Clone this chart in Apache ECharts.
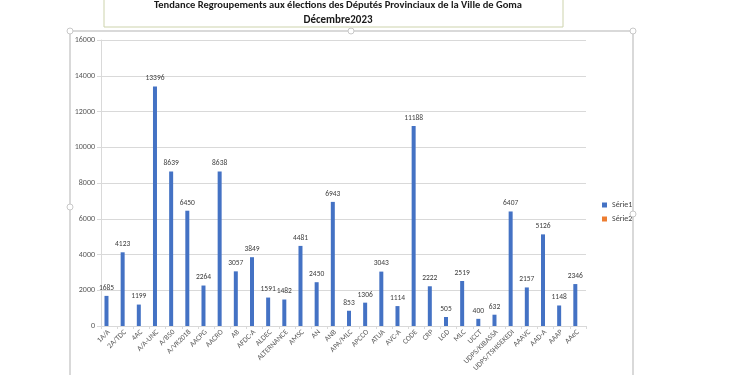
<!DOCTYPE html>
<html>
<head>
<meta charset="utf-8">
<title>Tendance Regroupements</title>
<script src="https://cdn.jsdelivr.net/npm/echarts@6/dist/echarts.min.js"></script>
<style>
html,body{margin:0;padding:0;background:#fff;}
#chart{width:750px;height:375px;}
</style>
</head>
<body>
<div id="chart"></div>
<script>
// regroupements (x) et voix obtenues
let categories = ['1A/A','2A/TDC','4AC','A/A-UNC','A/B50','A/VK2018','AACPG','AACRO','AB','AFDC-A',
    'ALDEC','ALTERNANCE','AMSC','AN','ANB','APA/MLC','APCCO','ATUA','AVC-A','CODE',
    'CRP','LGD','MLC','UCCT','UDPS/KIBASSA','UDPS/TSHISEKEDI','AAAVC','AAD-A','AAAP','AAeC'];
let serie1 = [1685,4123,1199,13396,8639,6450,2264,8638,3057,3849,
    1591,1482,4481,2450,6943,853,1306,3043,1114,11188,
    2222,505,2519,400,632,6407,2157,5126,1148,2346];
let serie2 = [];
let yTicks = [0,2000,4000,6000,8000,10000,12000,14000,16000];

let font = 'Carlito, "Liberation Sans", "Open Sans", sans-serif';
let chart = echarts.init(document.getElementById('chart'));

function handle(x,y){
    return {type:'circle',shape:{cx:x,cy:y,r:3},style:{fill:'#fff',stroke:'#c8c8c8',lineWidth:1},z:5};
}

chart.setOption({
    animation:false,
    textStyle:{fontFamily:font},
    title:{
        text:'Tendance Regroupements aux élections des Députés Provinciaux de la Ville de Goma',
        subtext:'Décembre2023',
        left:333, textAlign:'center', top:-5, itemGap:4,
        textStyle:{fontSize:10.5,fontWeight:'bold',color:'#1a1a1a',fontFamily:font},
        subtextStyle:{fontSize:11,fontWeight:'bold',color:'#1a1a1a',fontFamily:font}
    },
    graphic:[
        {type:'rect',shape:{x:104,y:-5,width:459,height:32},style:{fill:'#fff',stroke:'#cdd3ac',lineWidth:1},z:-1},
        {type:'rect',shape:{x:70,y:31,width:563,height:360},style:{fill:'none',stroke:'#d9d9d9',lineWidth:2},z:-1},
        handle(70,31), handle(351,31), handle(633,31), handle(70,207), handle(633,214)
    ],
    legend:{
        orient:'vertical', left:597, top:196, itemWidth:5, itemHeight:5, itemGap:6,
        icon:'rect',
        textStyle:{fontSize:8,color:'#404040',fontFamily:font},
        data:['Série1','Série2']
    },
    grid:{left:101,right:164,top:40,bottom:49},
    xAxis:{
        type:'category', data:categories,
        axisLine:{lineStyle:{color:'#d9d9d9'}},
        axisTick:{show:true,length:3,lineStyle:{color:'#d9d9d9'}},
        axisLabel:{rotate:45,interval:0,fontSize:7.5,color:'#595959',margin:5}
    },
    yAxis:{
        type:'value', min:yTicks[0], max:yTicks[yTicks.length-1], interval:2000,
        axisLine:{show:true,lineStyle:{color:'#d9d9d9'}},
        axisTick:{show:true,length:4,lineStyle:{color:'#d9d9d9'}},
        splitLine:{lineStyle:{color:'#d9d9d9'}},
        axisLabel:{fontSize:8,color:'#595959',margin:6,formatter:v=>String(v)}
    },
    series:[
        {name:'Série1',type:'bar',data:serie1,barWidth:4,barGap:'30%',
            itemStyle:{color:'#4472c4'},
            label:{show:true,position:'top',fontSize:7.5,color:'#404040',distance:4}},
        {name:'Série2',type:'bar',data:serie2,barWidth:4,itemStyle:{color:'#ed7d31'}}
    ]
});
</script>
</body>
</html>
